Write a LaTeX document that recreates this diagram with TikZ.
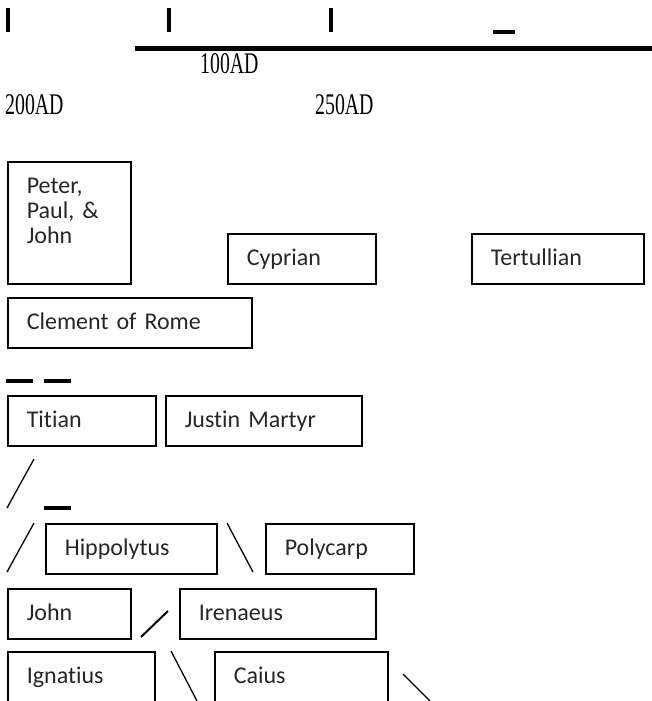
\documentclass[tikz,border=0pt]{standalone}
\usepackage{fontspec}
\usepackage{graphicx}
\setmainfont{Liberation Serif}
\newfontfamily\boxfont[Ligatures=NoCommon]{Carlito}

\begin{document}
\begin{tikzpicture}[x=1pt, y=-1pt,
  namebox/.style={draw=black, line width=1.6pt, anchor=north west, align=left,
    inner xsep=19pt, inner ysep=0pt, minimum height=50pt, text height=17pt, text depth=4pt,
    font=\boxfont\fontsize{24}{25}\selectfont, text=black!85},
  yearlabel/.style={anchor=base west, inner sep=0pt, font=\fontsize{30}{30}\selectfont},
  bar/.style={line width=4pt},
  stroke/.style={line width=1.3pt}]
  \useasboundingbox (0,0) rectangle (652,701);
  \clip (0,0) rectangle (652,701);

  \draw[bar] (7.5,8) -- (7.5,32);
  \draw[bar] (169,8) -- (169,32);
  \draw[bar] (331,8) -- (331,32);
  \draw[bar] (493,32) -- (515,32);
  \draw[line width=5pt] (135,48.5) -- (652,48.5);
  \node[yearlabel] (y100) at (200,74) {\scalebox{0.66}[1]{100AD}};
  \node[yearlabel] (y200) at (5,114) {\scalebox{0.66}[1]{200AD}};
  \node[yearlabel] (y250) at (315,114) {\scalebox{0.66}[1]{250AD}};

  \node[namebox, text width=85pt, minimum height=122pt, text depth=75pt] (peter) at (7,161) {Peter,\\Paul, \&\\John};
  \node[namebox, text width=110pt] (cyprian) at (227,233) {Cyprian};
  \node[namebox, text width=134pt] (tertullian) at (471,233) {Tertullian};
  \node[namebox, text width=206pt] (clement) at (7,297) {Clement of Rome};
  \draw[bar] (6,380.5) -- (33,380.5);
  \draw[bar] (44,380.5) -- (71,380.5);
  \node[namebox, text width=110pt] (titian) at (7,395) {Titian};
  \node[namebox, text width=158pt] (justin) at (165,395) {Justin Martyr};
  \draw[stroke] (7,508) -- (34,459);
  \draw[bar] (44,508) -- (71,508);
  \draw[stroke] (7,572) -- (34,523);
  \node[namebox, text width=133pt] (hippolytus) at (45,523) {Hippolytus};
  \draw[stroke] (227,523) -- (253,572);
  \node[namebox, text width=110pt] (polycarp) at (265,523) {Polycarp};
  \node[namebox, text width=85pt] (john) at (7,588) {John};
  \draw[line width=2pt] (141,637) -- (168,611);
  \node[namebox, text width=158pt] (irenaeus) at (179,588) {Irenaeus};
  \node[namebox, text width=109pt, minimum height=60pt, text depth=14pt] (ignatius) at (7,651) {Ignatius};
  \draw[stroke] (171,651) -- (197,701);
  \node[namebox, text width=135pt, minimum height=60pt, text depth=14pt] (caius) at (214,651) {Caius};
  \draw[stroke] (403,674) -- (430,701);
\end{tikzpicture}
\end{document}
